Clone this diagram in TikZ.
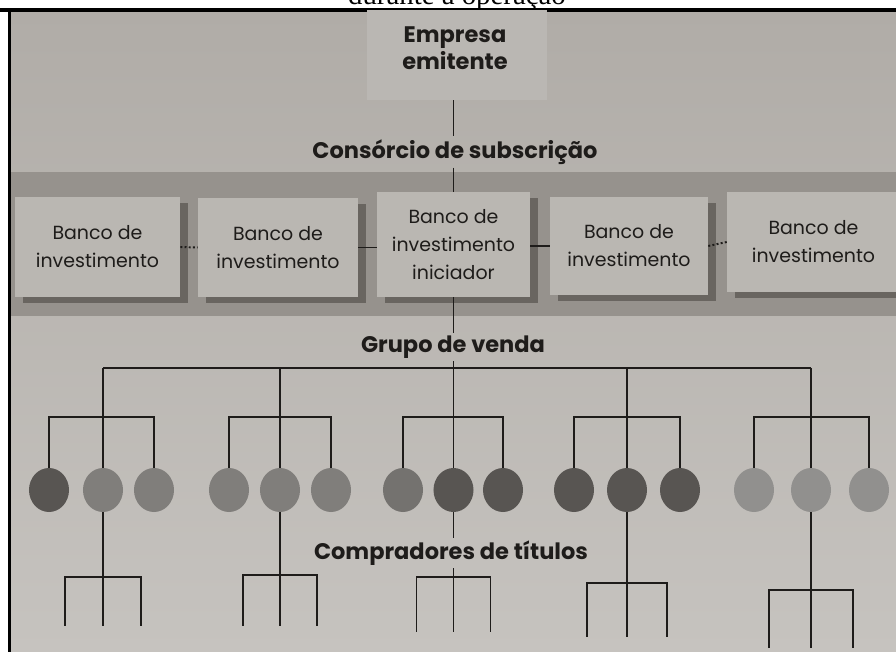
\documentclass[tikz,border=0pt]{standalone}
\usepackage{fontspec}
\setmainfont{Liberation Serif}
\newfontfamily\booktype{Poppins}
\usetikzlibrary{shapes.geometric}
\usetikzlibrary{shadows}
\usetikzlibrary{positioning}

\definecolor{paper}{RGB}{176,172,167}
\definecolor{paperlow}{RGB}{198,195,191}
\definecolor{band}{RGB}{150,146,141}
\definecolor{bankfill}{RGB}{186,183,178}
\definecolor{bankshade}{RGB}{105,101,96}
\definecolor{empfill}{RGB}{186,183,179}
\definecolor{dotdark}{RGB}{88,85,82}
\definecolor{dotmid}{RGB}{128,126,123}
\definecolor{dotlight}{RGB}{145,144,142}
\definecolor{ink}{RGB}{30,28,26}

\begin{document}
\begin{tikzpicture}[x=0.025cm, y=0.025cm,
      bank/.style={rectangle, fill=bankfill, inner sep=0pt, align=center, text=ink,
        font=\booktype\fontsize{13.5}{20}\selectfont,
        drop shadow={shadow xshift=0.2cm, shadow yshift=-0.15cm, fill=bankshade, opacity=1}},
      title/.style={font=\booktype\bfseries\fontsize{16}{19}\selectfont, text=ink, inner sep=2pt, align=center},
      buyer/.style={ellipse, minimum width=1cm, minimum height=1.1cm, inner sep=0pt},
      tree/.style={draw=ink, line width=1.1pt},
      dotlink/.style={draw=ink, line width=1.4pt, dash pattern=on 1.4pt off 1.6pt}
      ]

      \useasboundingbox (0,0) rectangle (896,652);
      \clip (0,0) rectangle (896,652);

      % Page
      \fill[white] (0,0) rectangle (896,652);
      \fill[top color=paper, bottom color=paperlow] (10,0) rectangle (896,642);
      \fill[band] (10,336) rectangle (896,480);
      \node[anchor=base, font=\fontsize{20.5}{24}\selectfont, inner sep=0pt] (caption) at (457,647.5) {durante a operação};
      \draw[line width=2.2pt] (0,642) -- (896,642);
      \draw[line width=2.2pt] (9.5,0) -- (9.5,642);

      % Nodes
      \node[rectangle, fill=empfill, minimum width=4.5cm, minimum height=2.25cm] (emp) at (457,597) {};
      \node[title] (emptext) at (455,604) {Empresa\\emitente};
      \node[title] (cons) at (455,500) {Consórcio de subscrição};

      \node[bank, minimum width=4.125cm, minimum height=2.5cm] (b1) at (97.5,405) {Banco de\\investimento};
      \node[bank, minimum width=4.0cm, minimum height=2.475cm] (b2) at (278,404.5) {Banco de\\investimento};
      \node[bank, minimum width=3.825cm, minimum height=2.625cm] (b3) at (453.5,407.5) {Banco de\\investimento\\iniciador};
      \node[bank, minimum width=3.95cm, minimum height=2.45cm] (b4) at (629,406) {Banco de\\investimento};
      \node[bank, minimum width=4.325cm, minimum height=2.5cm] (b5) at (813.5,410) {Banco de\\investimento};

      \node[title] (grupo) at (453,305) {Grupo de venda};
      \node[title] (compr) at (451,99) {Compradores de títulos};

      % Links
      \draw[tree] (emp.south -| b3.north) -- (cons.north -| b3.north);
      \draw[tree] (cons.south -| b3.north) -- (b3.north);
      \draw[tree] (b3.south) -- (grupo.north -| b3.south);
      \draw[dotlink] (b1.east) -- (b2.west);
      \draw[tree] (b2.east) -- (b2.east -| b3.west);
      \draw[tree] (b3.east |- b4.east) -- (b4.west);
      \draw[dotlink] (b4.east) -- (b5.west);

      % Selling group
      \foreach \n/\l/\m/\r/\ca/\cb/\cc/\fy/\by/\w in {
          1/49/103/154/dotdark/dotmid/dotmid/75/26/38,
          2/229/280/331/dotmid/dotmid/dotmid/77/26/37,
          3/403/453.5/503/dotmid!70!dotdark/dotdark/dotdark/75/20/37,
          4/574/627/680/dotdark/dotdark/dotdark/69/15/40,
          5/754/811/869/dotlight/dotlight/dotlight/62/4/42} {
        \node[buyer, fill=\ca] (c\n1) at (\l,162) {};
        \node[buyer, fill=\cb] (c\n2) at (\m,162) {};
        \node[buyer, fill=\cc] (c\n3) at (\r,162) {};
        \coordinate (t\n) at (\m,284);
        \coordinate (s\n) at (\m,235);
        \coordinate (f\n) at (\m,\fy);
        \coordinate (bl\n) at (\m-\w,\by);
        \coordinate (bm\n) at (\m,\by);
        \coordinate (br\n) at (\m+\w,\by);
        \draw[tree] (t\n) -- (s\n);
        \draw[tree] (c\n1.north) |- (s\n) -| (c\n3.north);
        \draw[tree] (s\n) -- (c\n2.north);
        \draw[tree] (bl\n) |- (f\n) -| (br\n);
        \draw[tree] (f\n) -- (bm\n);
      }
      \draw[tree] (grupo.south -| t3) -- (t3);
      \draw[tree] (t1) -- (t5);

      % Buyers
      \foreach \n in {1,2,4,5}
        \draw[tree] (c\n2.south) -- (f\n);
      \draw[tree] (c32.south) -- (compr.north -| c32.south);
      \draw[tree] (compr.south -| f3) -- (f3);

    \end{tikzpicture}
\end{document}
